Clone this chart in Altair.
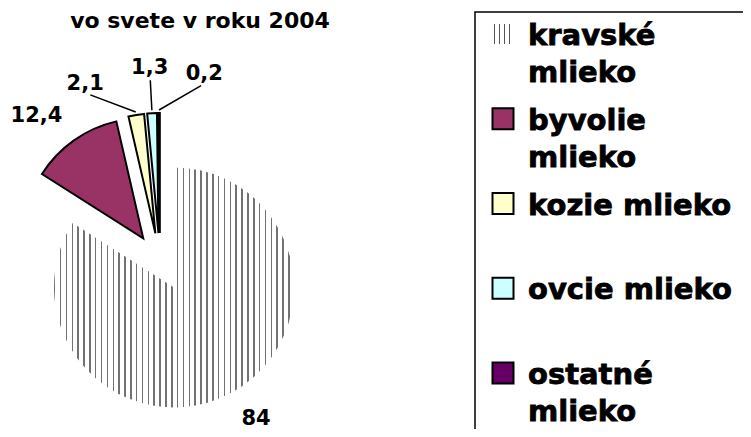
import altair as alt
import pandas as pd

# ---- data ----
categories = ["kravské mlieko", "byvolie mlieko", "kozie mlieko", "ovcie mlieko", "ostatné mlieko"]
legend_line1 = ["kravské", "byvolie", "kozie mlieko", "ovcie mlieko", "ostatné"]
legend_line2 = ["mlieko", "mlieko", "", "", "mlieko"]
values = [84, 12.4, 2.1, 1.3, 0.2]
value_labels = ["84", "12,4", "2,1", "1,3", "0,2"]
colors = ["#ffffff", "#993366", "#ffffcc", "#ccffff", "#660066"]
title_text = "vo svete v roku 2004"

df = pd.DataFrame({
    "cat": categories,
    "l1": legend_line1,
    "l2": legend_line2,
    "value": values,
    "label": value_labels,
    "order": list(range(len(categories))),
})

# ---- layout ----
W, H = 735, 421
CX, CY = 152, 254        # pie centre
EXPLODE = 29             # slice explosion
R = 120                  # pie radius
GAP = 20                 # gap between pie and labels of big slices
SMALL_R = 165            # label distance for tiny slices (with leader lines)
SPREAD = 16              # degrees between labels of tiny slices
FONT = "DejaVu Sans"


def stripes(n, frac, color="#808080", start=0.0):
    stops = []
    for i in range(n):
        a = (i + start) / n
        b = (i + start + frac) / n
        stops += [
            alt.GradientStop(offset=a, color="#ffffff"),
            alt.GradientStop(offset=a, color=color),
            alt.GradientStop(offset=b, color=color),
            alt.GradientStop(offset=b, color="#ffffff"),
        ]
    return alt.LinearGradient(gradient="linear", stops=stops, x1=0, x2=1, y1=0, y2=0)


base = (
    alt.Chart(df)
    .transform_joinaggregate(total="sum(value)")
    .transform_window(cum="sum(value)", sort=[alt.SortField("order")], frame=[None, 0])
    .transform_calculate(start="2*PI*(datum.cum - datum.value)/datum.total")
    .transform_calculate(end="2*PI*datum.cum/datum.total")
    .transform_calculate(mid="(datum.start + datum.end)/2")
    .transform_calculate(px=f"{CX} + {EXPLODE}*sin(datum.mid)")
    .transform_calculate(py=f"{CY} - {EXPLODE}*cos(datum.mid)")
    .transform_calculate(
        lang=f"datum.mid + (datum.value < 5 ? (datum.order - 3) * {SPREAD} * PI / 180 : 0)"
    )
    .transform_calculate(lx=f"datum.px + {SMALL_R}*sin(datum.lang)")
    .transform_calculate(ly=f"datum.py - {SMALL_R}*cos(datum.lang)")
    .transform_calculate(bx=f"datum.px + {R + GAP}*sin(datum.mid)")
    .transform_calculate(
        by=f"datum.py - {R + GAP}*cos(datum.mid) + (cos(datum.mid) > 0 ? -8.5 : 8.5)"
    )
    .transform_calculate(sx=f"datum.px + {R + 3}*sin(datum.mid)")
    .transform_calculate(sy=f"datum.py - {R + 3}*cos(datum.mid)")
    .transform_calculate(ex=f"datum.px + {SMALL_R - 12}*sin(datum.lang)")
    .transform_calculate(ey=f"datum.py - {SMALL_R - 12}*cos(datum.lang)")
)

pos = dict(x=alt.X("px:Q", scale=None), y=alt.Y("py:Q", scale=None))
ang = dict(theta=alt.Theta("start:Q", scale=None, stack=None), theta2=alt.Theta2("end:Q"))

cow = base.transform_filter("datum.order == 0").mark_arc(
    outerRadius=R, fill=stripes(41, 0.26, "#727272"), strokeWidth=0
).encode(**pos, **ang)

others = base.transform_filter("datum.order > 0").mark_arc(
    outerRadius=R, stroke="black", strokeWidth=2
).encode(
    **pos, **ang,
    fill=alt.Fill("cat:N", scale=alt.Scale(domain=categories, range=colors), legend=None),
)

leaders = base.transform_filter("datum.value < 5").mark_rule(
    color="black", strokeWidth=1.5
).encode(
    x=alt.X("sx:Q", scale=None), y=alt.Y("sy:Q", scale=None),
    x2="ex:Q", y2="ey:Q",
)

lab_style = dict(font=FONT, fontWeight="bold", fontSize=21, baseline="middle", color="black")

labels_small = base.transform_filter("datum.value < 5").mark_text(
    align="center", **lab_style
).encode(x=alt.X("lx:Q", scale=None), y=alt.Y("ly:Q", scale=None), text="label:N")

labels_left = base.transform_filter("datum.value >= 5 && sin(datum.mid) < 0").mark_text(
    align="right", **lab_style
).encode(x=alt.X("bx:Q", scale=None), y=alt.Y("by:Q", scale=None), text="label:N")

labels_right = base.transform_filter("datum.value >= 5 && sin(datum.mid) >= 0").mark_text(
    align="left", **lab_style
).encode(x=alt.X("bx:Q", scale=None), y=alt.Y("by:Q", scale=None), text="label:N")

title = alt.Chart(pd.DataFrame({"t": [title_text]})).mark_text(
    font=FONT, fontWeight="bold", fontSize=22, align="center", baseline="alphabetic", color="black"
).encode(x=alt.value(192), y=alt.value(20), text="t:N")

# ---- legend ----
leg_y = alt.Y("cat:N", scale=alt.Scale(type="point", domain=categories, range=[26, 365], padding=0), axis=None)

legend_box = alt.Chart(pd.DataFrame({"a": [0]})).mark_rect(
    fillOpacity=0, stroke="black", strokeWidth=1.5
).encode(x=alt.value(467), x2=alt.value(900), y=alt.value(4), y2=alt.value(600))

leg_cow = alt.Chart(df).transform_filter("datum.order == 0").mark_square(
    size=400, fill=stripes(4, 0.16, "#555555", 0.15), strokeWidth=0, opacity=1
).encode(x=alt.value(495), y=leg_y)

leg_sq = alt.Chart(df).transform_filter("datum.order > 0").mark_square(
    size=441, stroke="black", strokeWidth=2, opacity=1
).encode(
    x=alt.value(495), y=leg_y,
    fill=alt.Fill("cat:N", scale=alt.Scale(domain=categories, range=colors), legend=None),
)

txt_style = dict(font=FONT, fontWeight="bold", fontSize=29, align="left",
                 baseline="alphabetic", color="black", stroke="black", strokeWidth=0.8)
leg_text1 = alt.Chart(df).mark_text(dy=11, **txt_style).encode(
    x=alt.value(520), y=leg_y, text="l1:N")
leg_text2 = alt.Chart(df).mark_text(dy=48, **txt_style).encode(
    x=alt.value(520), y=leg_y, text="l2:N")

chart = (
    alt.layer(cow, others, leaders, labels_small, labels_left, labels_right, title,
              legend_box, leg_cow, leg_sq, leg_text1, leg_text2)
    .resolve_scale(x="independent", y="independent", fill="independent")
    .properties(width=W, height=H, padding=0, autosize=alt.AutoSizeParams(type="none"))
    .configure_view(stroke=None)
)

chart.save("out.html", embed_options={"renderer": "svg", "actions": False})
